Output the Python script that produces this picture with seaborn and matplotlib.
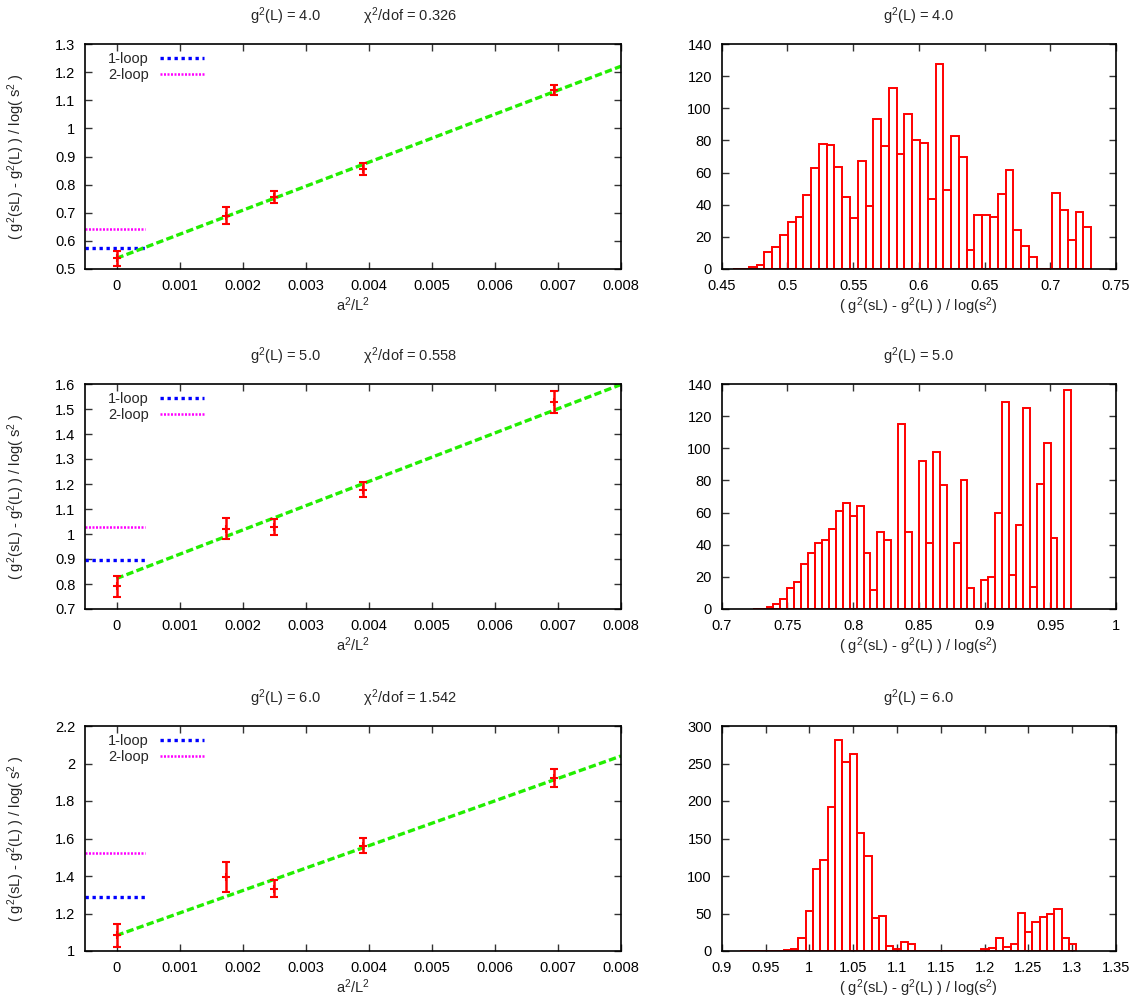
# step scaling fits (left) and bootstrap histograms (right), 3 couplings

import numpy as np
import matplotlib
matplotlib.use("Agg")
import matplotlib.pyplot as plt
import seaborn as sns
from matplotlib.ticker import FormatStrFormatter, MultipleLocator

sns.set_style("ticks")
plt.rcParams['font.family'] = ['Liberation Sans', 'DejaVu Sans']
plt.rcParams['mathtext.fontset'] = 'custom'
plt.rcParams['mathtext.rm'] = 'Liberation Sans'
plt.rcParams['mathtext.it'] = 'Liberation Sans:italic'
plt.rcParams['font.size'] = 10.5

# ---- data ----
couplings = ["4.0", "5.0", "6.0"]
chi2_dof = ["0.326", "0.558", "1.542"]

a2_L2 = [0.0, 1 / 576, 1 / 400, 1 / 256, 1 / 144]
sigma_4 = [0.538, 0.690, 0.757, 0.855, 1.135]
err_4 = [0.026, 0.030, 0.021, 0.022, 0.018]
sigma_5 = [0.791, 1.022, 1.027, 1.178, 1.529]
err_5 = [0.041, 0.043, 0.032, 0.031, 0.043]
sigma_6 = [1.084, 1.396, 1.332, 1.562, 1.922]
err_6 = [0.061, 0.079, 0.045, 0.041, 0.048]

fit_x = [0.0, 0.008]
fit_4 = [0.538, 1.221]
fit_5 = [0.822, 1.598]
fit_6 = [1.083, 2.040]

one_loop = [0.5736, 0.8976, 1.289]
two_loop = [0.641, 1.030, 1.521]
loop_x = [-0.0005, 0.00045]

hist_4 = [0, 0, 1, 2.5, 10.6, 14, 21.3, 29.4, 32.5, 45.8, 62.7, 78, 77.4, 63.4, 45, 32,
          66.9, 39.3, 93.4, 76.8, 112.8, 71.4, 96.7, 80.1, 78.5, 43.3, 127.3, 48.9, 82.8,
          69.6, 11.8, 33.3, 33.3, 32.1, 46.6, 61.5, 24.2, 14.3, 7.2, 0, 0, 47.6, 37, 17.8,
          35.4, 26]
hist_5 = [0, 0, 1.5, 3, 6, 13, 17, 28, 35, 41, 43, 50, 61, 66, 58, 64, 35, 12, 48, 43, 0,
          115, 48, 0, 92, 41, 98, 77, 0, 41, 80, 13, 0, 18, 20, 60, 129, 21, 52, 125, 14,
          78, 103, 44, 0, 136]
hist_6 = [0, 0, 0, 0, 0, 0, 1, 3, 18, 53, 109, 122, 192, 281, 252, 263, 158, 127, 44, 47,
          7, 3, 12, 9, 0, 0, 0, 0, 0, 0, 0, 0, 0, 3, 4, 17, 5, 9, 51, 25, 39, 45, 50, 56,
          18, 9]
hist_start = [0.4588, 0.7236, 0.9207]
hist_width = [0.00592, 0.00527, 0.00835]

# ---- styling ----
left_ylim = [(0.5, 1.3), (0.7, 1.6), (1.0, 2.2)]
left_ystep = [0.1, 0.1, 0.2]
hist_xlim = [(0.45, 0.75), (0.7, 1.0), (0.9, 1.35)]
hist_ylim = [(0, 140), (0, 140), (0, 300)]
hist_ystep = [20, 20, 50]

sigmas = [sigma_4, sigma_5, sigma_6]
errs = [err_4, err_5, err_6]
fits = [fit_4, fit_5, fit_6]
hists = [hist_4, hist_5, hist_6]

W, H = 1137, 1001
fig = plt.figure(figsize=(W / 100, H / 100), dpi=100)
row_top = [44, 384, 726]
ax_h = 225


def style_axis(ax):
    ax.tick_params(direction='in', top=True, right=True, length=5, width=1,
                   colors='#333333', labelcolor='black', pad=7)
    for s in ax.spines.values():
        s.set_linewidth(1.2)
        s.set_color('black')


for i in range(3):
    bottom = 1 - (row_top[i] + ax_h) / H
    axl = fig.add_axes([85 / W, bottom, (621 - 85) / W, ax_h / H])
    axr = fig.add_axes([721.7 / W, bottom, 394.3 / W, ax_h / H])

    # left: extrapolation
    sns.lineplot(x=loop_x, y=[one_loop[i]] * 2, ax=axl, color='#0000ff', lw=2.4,
                 linestyle=(0, (1, 1.1)), label='1-loop')
    sns.lineplot(x=loop_x, y=[two_loop[i]] * 2, ax=axl, color='#ff00ff', lw=1.8,
                 linestyle=(0, (0.8, 0.6)), label='2-loop')
    sns.lineplot(x=fit_x, y=fits[i], ax=axl, color='#22ee00', lw=2.4,
                 linestyle=(0, (2.2, 1.0)), legend=False)
    axl.errorbar(a2_L2, sigmas[i], yerr=errs[i], fmt='+', color='red', ms=6, mew=1.5,
                 elinewidth=1.8, capsize=3, capthick=1.8, zorder=5)
    axl.set_xlim(-0.0005, 0.008)
    axl.set_ylim(*left_ylim[i])
    axl.xaxis.set_major_locator(MultipleLocator(0.001))
    axl.yaxis.set_major_locator(MultipleLocator(left_ystep[i]))
    axl.xaxis.set_major_formatter(FormatStrFormatter('%g'))
    axl.yaxis.set_major_formatter(FormatStrFormatter('%g'))
    axl.set_xlabel(r"a$^2$/L$^2$", labelpad=2)
    axl.set_ylabel(r"( g$^2$(sL) - g$^2$(L) ) / log( s$^2$ )")
    axl.yaxis.set_label_coords(-0.108, 0.5)
    axl.set_title("g$^2$(L) = " + couplings[i] + "           \u03c7$^2$/dof = " + chi2_dof[i],
                  pad=16.5, fontsize=10.5)
    axl.legend(loc='upper left', bbox_to_anchor=(0.018, 1.022), frameon=False,
               markerfirst=False, handlelength=3.0, handletextpad=0.8, labelspacing=0.15,
               fontsize=10.5)
    style_axis(axl)

    # right: histogram
    nb = len(hists[i])
    lo = hist_start[i]
    hi = hist_start[i] + hist_width[i] * nb
    centers = lo + hist_width[i] * (np.arange(nb) + 0.5)
    sns.histplot(x=centers, weights=hists[i], bins=nb, binrange=(lo, hi), ax=axr,
                 fill=False, element='bars', color='red', linewidth=1.4)
    axr.set_xlim(*hist_xlim[i])
    axr.set_ylim(*hist_ylim[i])
    axr.xaxis.set_major_locator(MultipleLocator(0.05))
    axr.yaxis.set_major_locator(MultipleLocator(hist_ystep[i]))
    axr.xaxis.set_major_formatter(FormatStrFormatter('%g'))
    axr.yaxis.set_major_formatter(FormatStrFormatter('%g'))
    axr.set_ylabel("")
    axr.set_xlabel(r"( g$^2$(sL) - g$^2$(L) ) / log(s$^2$)", labelpad=2)
    axr.set_title("g$^2$(L) = " + couplings[i], pad=16.5, fontsize=10.5)
    style_axis(axr)

fig.savefig("out.png", dpi=100)
